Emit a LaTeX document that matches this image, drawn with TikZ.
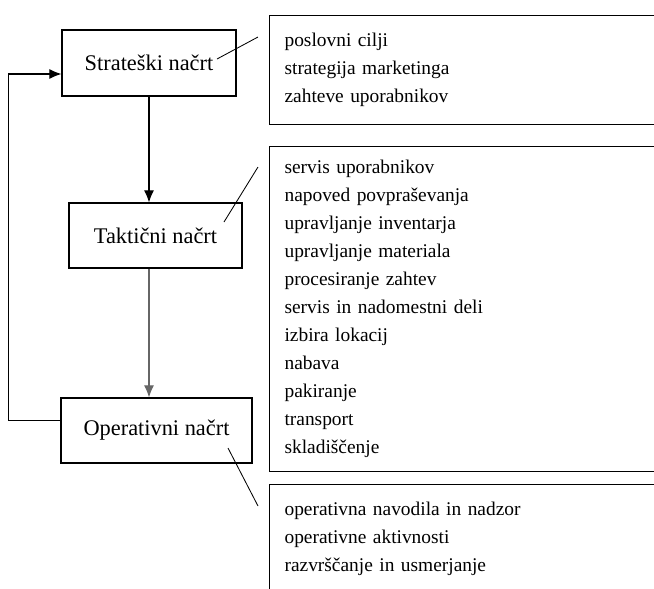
\documentclass[tikz,border=0pt]{standalone}
\usepackage{fontspec}
\setmainfont{Liberation Serif}
\usetikzlibrary{arrows.meta}
\tikzset{
    mainbox/.style={draw, line width=0.8pt, inner sep=0pt, minimum width=4.35cm, minimum height=1.65cm,
        font=\fontsize{15.9}{19}\selectfont},
    listbox/.style={draw, line width=0.8pt, anchor=north west, inner xsep=0.375cm, inner ysep=0pt,
        text width=9.25cm, align=left, font=\fontsize{13.8}{19.9}\selectfont},
    leader/.style={line width=0.6pt},
    flow/.style={line width=0.8pt, -{Latex[length=0.3cm,width=0.25cm]}}
}
\begin{document}
\begin{tikzpicture}[x=0.025cm, y=-0.025cm]
    \clip (0,0) rectangle (654,588); % page = reference size
    % the three plans
    \node[mainbox] (strat) at (149,63) {Strateški načrt};
    \node[mainbox, minimum width=4.325cm, minimum height=1.625cm] (takt) at (155.5,235.5) {Taktični načrt};
    \node[mainbox, minimum width=4.775cm, minimum height=1.625cm] (oper) at (156.5,430.5) {Operativni načrt};
    % lists on the right
    \node[listbox, minimum height=2.725cm] (stratlist) at (269,15) {poslovni cilji\\strategija marketinga\\zahteve uporabnikov};
    \node[listbox, minimum height=8.125cm] (taktlist) at (269,146) {servis uporabnikov\\napoved povpraševanja\\upravljanje inventarja\\upravljanje materiala\\procesiranje zahtev\\servis in nadomestni deli\\izbira lokacij\\nabava\\pakiranje\\transport\\skladiščenje};
    \node[listbox, minimum height=2.7cm] (operlist) at (269,484) {operativna navodila in nadzor\\operativne aktivnosti\\razvrščanje in usmerjanje};
    % arrows between the plans
    \draw[flow] (strat.south) -- (takt.north -| strat.south);
    \draw[flow, draw=black!60] (takt.south -| strat.south) -- (oper.north -| strat.south);
    \draw[flow] ([yshift=0.25cm]oper.west) -- ++(-1.3cm,0) |- ([yshift=-0.275cm]strat.west); % feedback
    % leader lines to the lists
    \coordinate (s1) at (217,59);  \coordinate (s2) at (258,37);
    \coordinate (t1) at (224,222); \coordinate (t2) at (258,167);
    \coordinate (o1) at (228,448); \coordinate (o2) at (258,506);
    \draw[leader] (s1) -- (s2);
    \draw[leader] (t1) -- (t2);
    \draw[leader] (o1) -- (o2);
\end{tikzpicture}
\end{document}
